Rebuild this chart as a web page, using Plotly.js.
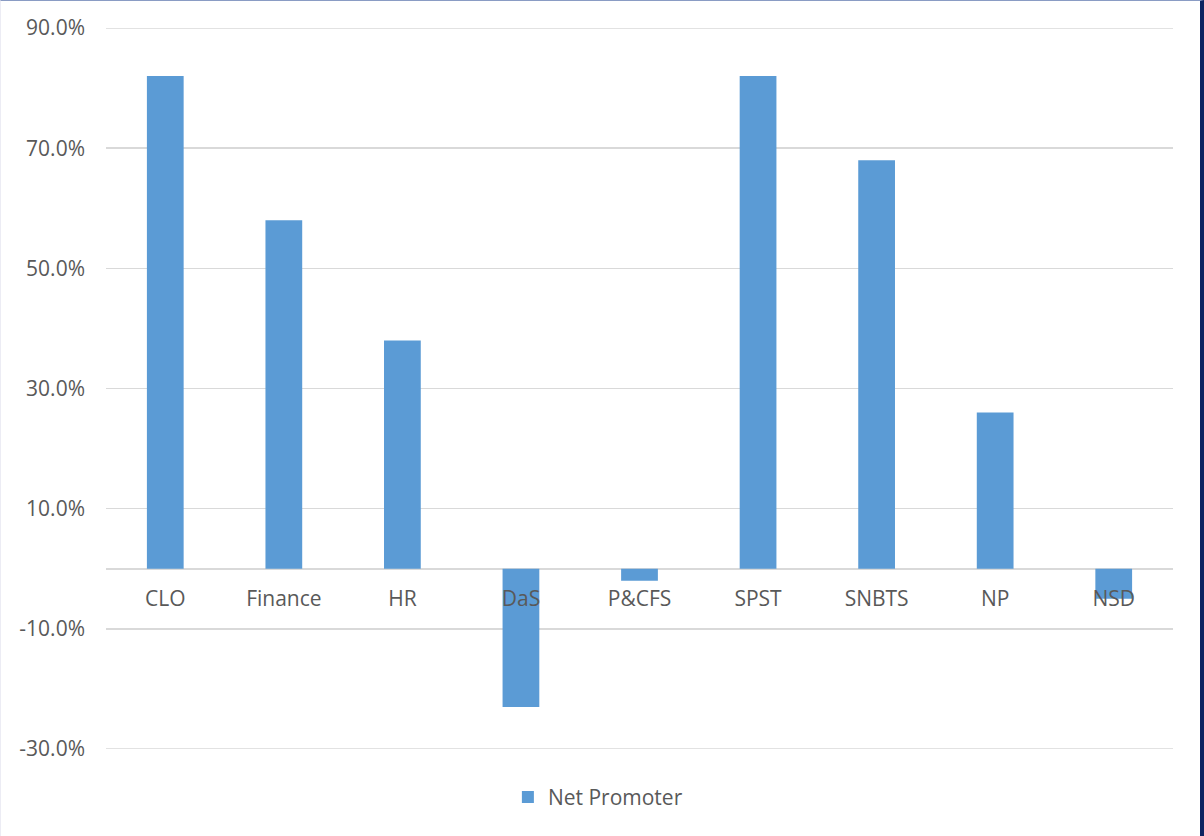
<!DOCTYPE html>
<html>
<head>
<meta charset="utf-8">
<script src="https://cdn.plot.ly/plotly-3.0.1.min.js"></script>
<style>
  html, body { margin: 0; padding: 0; background: #ffffff; }
  #chart { width: 1204px; height: 836px; box-sizing: border-box;
           border-top: 1px solid #8a9cc4; border-left: 1px solid #ececf4; border-right: 4px solid #0c2461; }
</style>
</head>
<body>
<div id="chart"></div>
<script>
const categories = ["CLO", "Finance", "HR", "DaS", "P&CFS", "SPST", "SNBTS", "NP", "NSD"];
const netPromoter = [0.82, 0.58, 0.38, -0.23, -0.02, 0.82, 0.68, 0.26, -0.05];
const seriesName = "Net Promoter";
const yTicks = [-0.3, -0.1, 0.1, 0.3, 0.5, 0.7, 0.9];
const yTickText = yTicks.map(v => (v * 100).toFixed(1) + "%");

const font = { family: "Open Sans, sans-serif", size: 21, color: "#595959" };

const trace = {
  type: "bar",
  x: categories,
  y: netPromoter,
  name: seriesName,
  marker: { color: "#5b9bd5" },
  showlegend: true,
  hoverinfo: "x+y"
};

// Plotly drops gridlines that sit exactly on the plot edges; redraw those two
const edgeGrid = [yTicks[0], yTicks[yTicks.length - 1]].map(v => ({
  type: "line", xref: "paper", yref: "y", x0: 0, x1: 1, y0: v, y1: v,
  line: { color: "#d9d9d9", width: 1.5 }, layer: "below"
}));

const layout = {
  width: 1199,
  height: 835,
  margin: { l: 105, r: 27, t: 27, b: 87 },
  paper_bgcolor: "#ffffff",
  plot_bgcolor: "#ffffff",
  font: font,
  bargap: 0.69,
  showlegend: true,
  legend: {
    orientation: "h",
    x: 0.461, xanchor: "center",
    y: -0.067, yanchor: "middle",
    font: font
  },
  shapes: edgeGrid,
  xaxis: {
    type: "category",
    anchor: "free",
    position: 0.25,
    showline: false,
    showgrid: false,
    zeroline: false,
    ticks: "",
    ticklabelstandoff: 15,
    tickfont: font
  },
  yaxis: {
    range: [-0.3, 0.9],
    tickvals: yTicks,
    ticktext: yTickText,
    showgrid: true,
    gridcolor: "#d9d9d9",
    gridwidth: 1.5,
    zeroline: true,
    zerolinecolor: "#d9d9d9",
    zerolinewidth: 1.5,
    showline: false,
    ticks: "",
    ticklabelstandoff: 20,
    tickfont: font
  }
};

Plotly.newPlot("chart", [trace], layout, { displayModeBar: false, staticPlot: true });
</script>
</body>
</html>
